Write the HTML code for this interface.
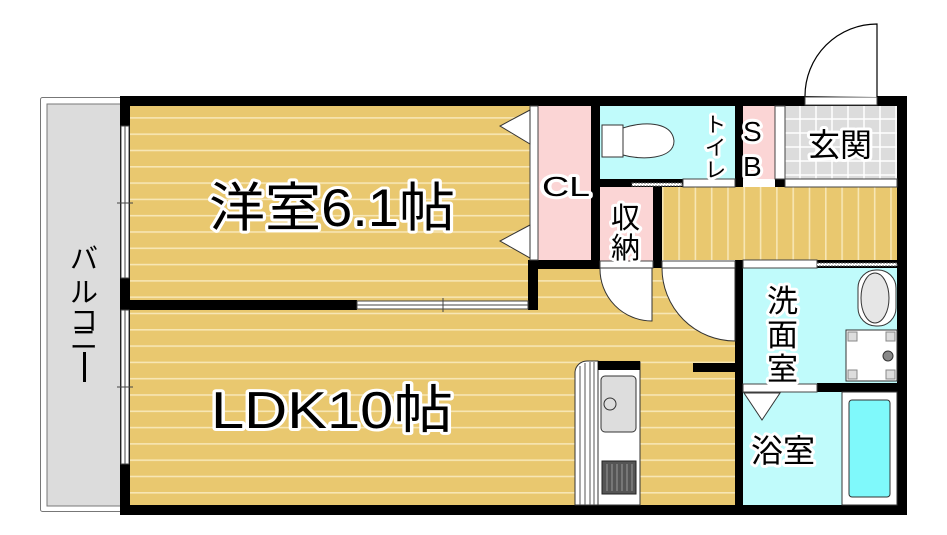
<!DOCTYPE html>
<html><head><meta charset="utf-8"><style>
html,body{margin:0;padding:0;background:#fff}
svg{display:block}
text{font-family:"Liberation Sans","Noto Sans CJK JP",sans-serif;paint-order:stroke;stroke:#fff;stroke-linejoin:round}
</style></head><body>
<svg width="947" height="535" viewBox="0 0 947 535" xmlns="http://www.w3.org/2000/svg">
<defs>
<pattern id="wh" width="10" height="16.3" patternUnits="userSpaceOnUse" y="3"><rect width="10" height="16.3" fill="#e9c86f"/><rect y="0" width="10" height="1.6" fill="#f7e6b4"/></pattern>
<pattern id="wv" width="16.3" height="10" patternUnits="userSpaceOnUse" x="662"><rect width="16.3" height="10" fill="#e9c86f"/><rect x="0" width="1.6" height="10" fill="#f7e6b4"/></pattern>
<pattern id="tile" width="16" height="14" patternUnits="userSpaceOnUse" x="785" y="106"><rect width="16" height="14" fill="#dcdcdc"/><path d="M15 0V14M0 13H16" stroke="#fff" stroke-width="1.5"/></pattern>
</defs>
<!-- balcony -->
<rect x="40.5" y="97.5" width="85" height="414" rx="2" fill="#fff" stroke="#777"/>
<rect x="47" y="104" width="75" height="402" fill="#dcdcdc" stroke="#777"/>
<!-- rooms -->
<rect x="130" y="106" width="400" height="196" fill="url(#wh)"/>
<rect x="130" y="308" width="605" height="198" fill="url(#wh)"/>
<rect x="530" y="268" width="205" height="45" fill="url(#wh)"/>
<rect x="538" y="106" width="53" height="155" fill="#fbd5d5"/>
<rect x="600" y="106" width="135" height="73" fill="#c0fbfb"/>
<rect x="742" y="106" width="33" height="73" fill="#fbd5d5"/>
<rect x="785" y="106" width="112" height="73" fill="url(#tile)"/>
<rect x="600" y="187" width="53" height="75" fill="#fbd5d5"/>
<rect x="662" y="187" width="235" height="73" fill="url(#wv)"/>
<rect x="743" y="268" width="154" height="116" fill="#c0fbfb"/>
<rect x="743" y="392" width="154" height="114" fill="#c0fbfb"/>
<!-- walls -->
<g fill="#000">
<rect x="120" y="96" width="787" height="10"/>
<rect x="120" y="505" width="787" height="10"/>
<rect x="120" y="96" width="10" height="419"/>
<rect x="897" y="96" width="10" height="419"/>
<rect x="120" y="300" width="237" height="10"/>
<rect x="528" y="260" width="10" height="50"/>
<rect x="528" y="260" width="72" height="9"/>
<rect x="591" y="96" width="9" height="173"/>
<rect x="600" y="179" width="135" height="8"/>
<rect x="735" y="96" width="8" height="91"/>
<rect x="653" y="187" width="9" height="81"/>
<rect x="735" y="260" width="8" height="255"/>
<rect x="735" y="260" width="172" height="8"/>
<rect x="817" y="383" width="90" height="9"/>
<rect x="693" y="363" width="42" height="9"/>
<rect x="775" y="179" width="10" height="8"/>
</g>
<!-- windows -->
<g fill="#fff" stroke="#444" stroke-width="1">
<rect x="121" y="126" width="8" height="152"/><line x1="125" y1="126" x2="125" y2="278"/>
<rect x="121" y="310" width="8" height="154"/><line x1="125" y1="310" x2="125" y2="464"/>
<rect x="357" y="301" width="171" height="8"/><line x1="357" y1="305" x2="528" y2="305"/><line x1="443" y1="298" x2="443" y2="312"/>
<line x1="117" y1="203" x2="133" y2="203"/><line x1="117" y1="387" x2="133" y2="387"/>
<rect x="530" y="106" width="8" height="154"/>
<rect x="775" y="106" width="10" height="73"/>
<rect x="785" y="179" width="112" height="8"/>
<rect x="683" y="179" width="52" height="8"/>
<rect x="743" y="384" width="74" height="8"/>
<rect x="743" y="260" width="74" height="8"/>
<rect x="600" y="261" width="53" height="7"/>
<rect x="662" y="261" width="73" height="7"/>
<rect x="805" y="97" width="72" height="8"/>
</g>
<rect x="632" y="183" width="50" height="3" fill="#fff" stroke="#555" stroke-dasharray="2 1"/>
<rect x="817" y="263" width="80" height="3" fill="#fff" stroke="#555" stroke-dasharray="2 1"/>
<!-- closet doors -->
<g fill="#fff" stroke="#333"><path d="M530 110 L500 126 L530 144Z"/><path d="M530 225 L500 241 L530 258Z"/></g>
<!-- entrance door -->
<path d="M877 97 V24 A72 72 0 0 0 805 96" fill="#fff" stroke="#000" stroke-width="1.2"/>
<!-- interior doors -->
<path d="M652 268 V321 A52 52 0 0 1 600 268Z" fill="#fff" stroke="#333"/>
<path d="M735 268 V341 A73 73 0 0 1 662 268Z" fill="#fff" stroke="#333"/>
<path d="M744 393 L780 393 L762 420Z" fill="#fff" stroke="#333"/>
<!-- toilet -->
<g fill="#fff" stroke="#333"><rect x="602" y="125" width="21" height="32"/><path d="M623 128 C640 122 672 120 674 141 C674 160 640 160 623 155Z"/></g>
<!-- washer/basin -->
<rect x="858" y="270" width="38" height="56" rx="18" fill="#fff" stroke="#333"/>
<ellipse cx="875" cy="298" rx="14" ry="25" fill="#e6e6e6" stroke="#333"/>
<rect x="846" y="330" width="51" height="51" fill="#fff" stroke="#333"/>
<g fill="#ddd" stroke="#888"><rect x="848" y="332" width="9" height="9"/><rect x="886" y="332" width="9" height="9"/><rect x="848" y="370" width="9" height="9"/><rect x="886" y="370" width="9" height="9"/></g>
<circle cx="888" cy="356" r="5" fill="#888" stroke="#333"/>
<!-- bathtub -->
<rect x="842" y="392" width="55" height="113" fill="#fff" stroke="#333"/>
<rect x="849" y="400" width="41" height="97" rx="3" fill="#7ff9fb" stroke="#333"/>
<!-- kitchen -->
<path d="M575 505 V372 A12 12 0 0 1 587 361 H598 V505Z" fill="#fff" stroke="#333"/>
<g stroke="#555"><line x1="580" y1="366" x2="580" y2="505"/><line x1="585" y1="363" x2="585" y2="505"/><line x1="590" y1="362" x2="590" y2="505"/><line x1="594" y1="362" x2="594" y2="505"/></g>
<rect x="598" y="362" width="42" height="143" fill="#fff" stroke="#333"/>
<rect x="598" y="361" width="42" height="9" fill="#000"/>
<rect x="601" y="376" width="35" height="56" rx="4" fill="#ddd" stroke="#333"/>
<circle cx="610" cy="404" r="6" fill="#ddd" stroke="#333"/>
<rect x="602" y="461" width="34" height="33" fill="#555" stroke="#222"/>
<g stroke="#aaa" stroke-width="0.8"><line x1="607" y1="464" x2="607" y2="491"/><line x1="612" y1="464" x2="612" y2="491"/><line x1="617" y1="464" x2="617" y2="491"/><line x1="622" y1="464" x2="622" y2="491"/><line x1="627" y1="464" x2="627" y2="491"/><line x1="632" y1="464" x2="632" y2="491"/></g>
<!-- labels -->
<g fill="#000" stroke-width="6">
<text x="209" y="226" font-size="53" textLength="246" lengthAdjust="spacingAndGlyphs">洋室6.1帖</text>
<text x="211" y="428" font-size="52" textLength="242" lengthAdjust="spacingAndGlyphs">LDK10帖</text>
<text x="542" y="196" font-size="28" textLength="48" lengthAdjust="spacingAndGlyphs">CL</text>
<text x="611" y="228" font-size="29">収</text>
<text x="611" y="258" font-size="29">納</text>
<text x="705" y="132" font-size="21">ト</text>
<text x="705" y="155" font-size="21">イ</text>
<text x="705" y="177" font-size="21">レ</text>
<text x="743" y="141" font-size="28">S</text>
<text x="743" y="176" font-size="28">B</text>
<text x="808" y="156" font-size="32">玄関</text>
<text x="767" y="312" font-size="31">洗</text>
<text x="767" y="346" font-size="31">面</text>
<text x="767" y="380" font-size="31">室</text>
<text x="751" y="462" font-size="32">浴室</text>
<text x="70" y="268" font-size="28" stroke-width="0">バ</text>
<text x="70" y="302" font-size="28" stroke-width="0">ル</text>
<text x="70" y="330" font-size="28" stroke-width="0">コ</text>
<text x="70" y="349" font-size="28" stroke-width="0">ニ</text>
<rect x="83" y="352" width="3" height="30" stroke-width="0"/>
</g>
</svg>
</body></html>
